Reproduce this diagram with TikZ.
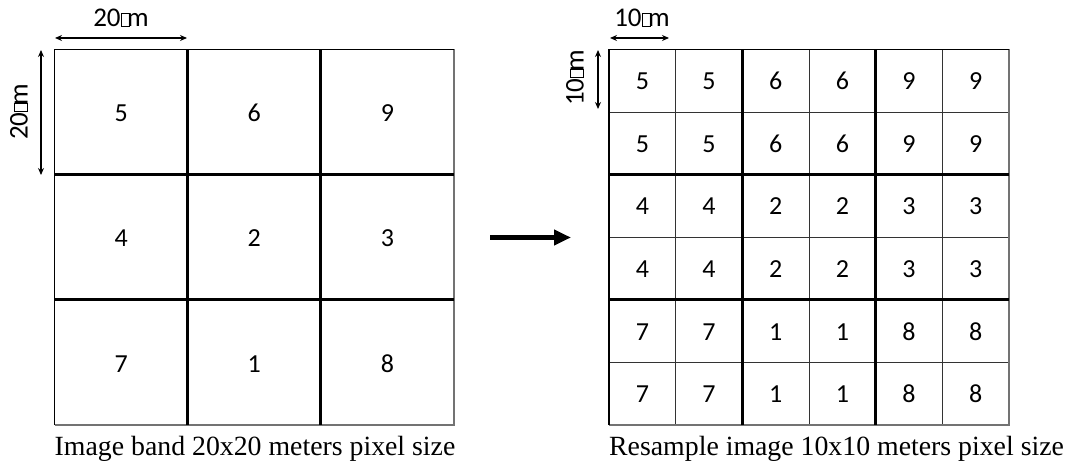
\documentclass[tikz,border=0pt]{standalone}
\usepackage{fontspec}
\setmainfont{Liberation Serif}
\newfontfamily\calfont{Carlito}
\usetikzlibrary{arrows.meta}
\newcommand\tofu{\kern0.02em\raisebox{0.02em}{\fboxsep=0pt\fboxrule=0.5pt\framebox[0.32em]{\rule{0pt}{0.46em}}}\kern-0.1em}
\tikzset{
  cellnum/.style={font=\calfont\fontsize{26}{30}\selectfont, inner sep=0pt, anchor=base},
  dimlabel/.style={font=\calfont\fontsize{27}{32}\selectfont, inner sep=0pt},
  caption/.style={font=\fontsize{27.8}{32}\selectfont, inner sep=0pt, anchor=base west},
  thickline/.style={line width=3pt, black},
  thinline/.style={line width=1pt, black!80},
  outerdark/.style={line width=1.3pt, black},
  outergrey/.style={line width=1.3pt, black!55},
  dimarrow/.style={line width=1.2pt, {Stealth[length=7pt,width=6pt]}-{Stealth[length=7pt,width=6pt]}},
  bigarrow/.style={line width=4.5pt, -{Triangle[length=17pt,width=15pt]}}
}
\begin{document}
\begin{tikzpicture}[x=1pt,y=-1pt]
\useasboundingbox (0,0) rectangle (1072,465);
% ---------- left grid ----------
\def\LX{54.5}\def\LY{49.5}\def\LW{133.2}\def\LH{125.2}
\foreach \r/\c/\v in {1/1/5,1/2/6,1/3/9,2/1/4,2/2/2,2/3/3,3/1/7,3/2/1,3/3/8}{
  \node[cellnum] (L-\r-\c) at ({\LX+\LW*(\c-0.5)},{\LY+\LH*(\r-0.5)+9.5}) {\v};
}
\coordinate (LTL) at (\LX,\LY);
\coordinate (LTR) at ({\LX+3*\LW},\LY);
\coordinate (LBL) at (\LX,{\LY+3*\LH});
\coordinate (LBR) at ({\LX+3*\LW},{\LY+3*\LH});
\draw[outergrey] (LTR) -- (LBR) -- (LBL);
\draw[outerdark] (LBL) -- (LTL) -- (LTR);
\foreach \i in {1,2}{
  \draw[thickline] ({\LX+\LW*\i},\LY) -- ({\LX+\LW*\i},{\LY+3*\LH});
  \draw[thickline] (\LX,{\LY+\LH*\i}) -- ({\LX+3*\LW},{\LY+\LH*\i});
}
% ---------- right grid ----------
\def\RX{609}\def\RY{49.5}\def\RW{66.67}\def\RH{62.6}
\foreach \r/\c/\v in {1/1/5,1/2/5,1/3/6,1/4/6,1/5/9,1/6/9,
                      2/1/5,2/2/5,2/3/6,2/4/6,2/5/9,2/6/9,
                      3/1/4,3/2/4,3/3/2,3/4/2,3/5/3,3/6/3,
                      4/1/4,4/2/4,4/3/2,4/4/2,4/5/3,4/6/3,
                      5/1/7,5/2/7,5/3/1,5/4/1,5/5/8,5/6/8,
                      6/1/7,6/2/7,6/3/1,6/4/1,6/5/8,6/6/8}{
  \node[cellnum] (R-\r-\c) at ({\RX+\RW*(\c-0.5)},{\RY+\RH*(\r-0.5)+9}) {\v};
}
\coordinate (RTL) at (\RX,\RY);
\coordinate (RTR) at ({\RX+6*\RW},\RY);
\coordinate (RBL) at (\RX,{\RY+6*\RH});
\coordinate (RBR) at ({\RX+6*\RW},{\RY+6*\RH});
\foreach \i in {1,3,5}{
  \draw[thinline] ({\RX+\RW*\i},\RY) -- ({\RX+\RW*\i},{\RY+6*\RH});
  \draw[thinline] (\RX,{\RY+\RH*\i}) -- ({\RX+6*\RW},{\RY+\RH*\i});
}
\draw[outergrey] (RTR) -- (RBR) -- (RBL);
\draw[outerdark] (RBL) -- (RTL) -- (RTR);
\foreach \i in {2,4}{
  \draw[thickline] ({\RX+\RW*\i},\RY) -- ({\RX+\RW*\i},{\RY+6*\RH});
  \draw[thickline] (\RX,{\RY+\RH*\i}) -- ({\RX+6*\RW},{\RY+\RH*\i});
}
% ---------- dimension arrows ----------
\coordinate (dh1a) at (55,38);  \coordinate (dh1b) at (187,38);
\draw[dimarrow] (dh1a) -- (dh1b);
\node[dimlabel] (lab20h) at (121,18) {20\tofu m};
\coordinate (dv1a) at (41,50);  \coordinate (dv1b) at (41,175);
\draw[dimarrow] (dv1a) -- (dv1b);
\node[dimlabel, rotate=90] (lab20v) at (19,112) {20\tofu m};
\coordinate (dh2a) at (610,38); \coordinate (dh2b) at (669,38);
\draw[dimarrow] (dh2a) -- (dh2b);
\node[dimlabel] (lab10h) at (642,18) {10\tofu m};
\coordinate (dv2a) at (598,50); \coordinate (dv2b) at (598,109);
\draw[dimarrow] (dv2a) -- (dv2b);
\node[dimlabel, rotate=90] (lab10v) at (575,78) {10\tofu m};
% ---------- big arrow ----------
\coordinate (ba1) at (490,237.5); \coordinate (ba2) at (571,237.5);
\draw[bigarrow] (ba1) -- (ba2);
% ---------- captions ----------
\node[caption] (capL) at (54.5,455) {Image band 20x20 meters pixel size};
\node[caption] (capR) at (609,455) {Resample image 10x10 meters pixel size};
\end{tikzpicture}
\end{document}
